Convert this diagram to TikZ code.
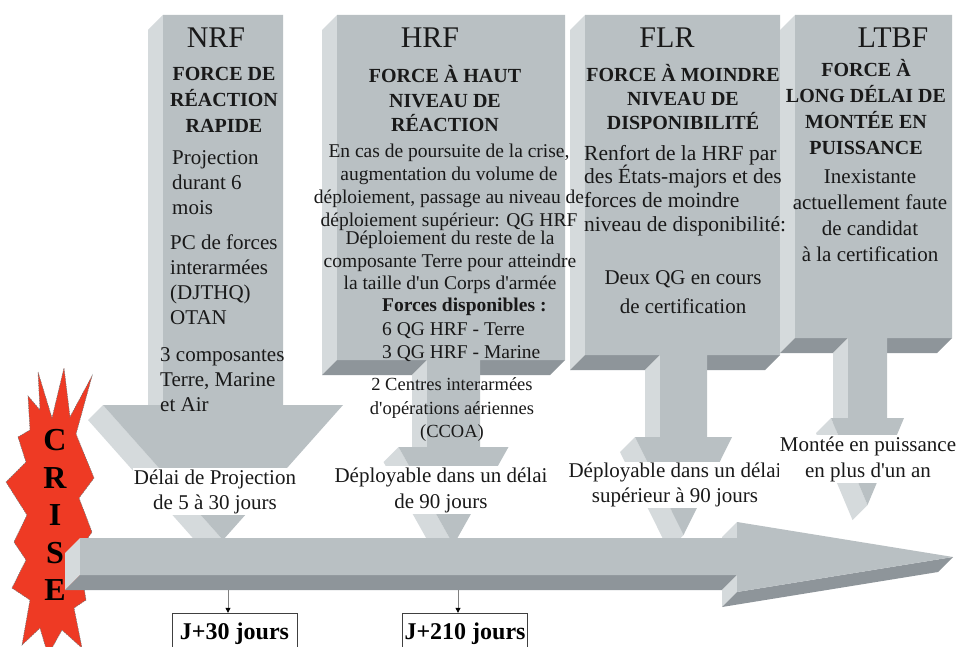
\documentclass[tikz,border=0pt]{standalone}
\usepackage{fontspec}
\setmainfont{Liberation Serif}
\usetikzlibrary{arrows.meta}
\definecolor{facefront}{HTML}{B9C0C3}
\definecolor{faceleft}{HTML}{D5DADC}
\definecolor{facebottom}{HTML}{8E959A}
\definecolor{crisered}{HTML}{EE3A24}
\newcommand{\apos}{\textquotesingle}

% block, stem and head of one force (front face + visible sides)
% #1 #2 block left/right, #3 block bottom, #4 #5 stem left/right,
% #6 stem bottom, #7 #8 head left/right, #9 tip
\newcommand{\stemarrow}[9]{%
  \fill[faceleft] (#1,15) -- (#1,#3) -- ++(-15,15) -- (#1-15,30) -- cycle;
  \fill[facebottom] (#1,#3) -- (#4,#3) -- ++(-15,15) -- (#1-15,#3+15) -- cycle;
  \fill[facebottom] (#5,#3) -- (#2,#3) -- ++(-15,15) -- (#5-15,#3+15) -- cycle;
  \fill[faceleft] (#4,#3) -- (#4,#6) -- ++(-15,15) -- (#4-15,#3+15) -- cycle;
  \fill[faceleft] (#7,#6) -- ({(#4+#5)/2},#9) -- ++(-15,15) -- (#7-15,#6+15) -- cycle;
  \fill[facefront] (#1,15) -- (#2,15) -- (#2,#3) -- (#5,#3) -- (#5,#6) -- (#8,#6)
    -- ({(#4+#5)/2},#9) -- (#7,#6) -- (#4,#6) -- (#4,#3) -- (#1,#3) -- cycle;
}

\begin{document}
\begin{tikzpicture}[x=1pt, y=-1pt]
  \tikzstyle{nametext}=[font=\fontsize{30}{30}\selectfont, inner sep=0pt, text=black!90]
  \tikzstyle{headtext}=[font=\fontsize{20}{26}\selectfont\bfseries, align=center, inner sep=0pt, text=black!90]
  \tikzstyle{bodytext}=[font=\fontsize{21}{25}\selectfont, inner sep=0pt, text=black!90]
  \tikzstyle{smalltext}=[font=\fontsize{19.5}{23}\selectfont, inner sep=0pt, text=black!90]
  \tikzstyle{delaytext}=[bodytext, align=center, fill=white, inner sep=1pt]
  \tikzstyle{daybox}=[draw=black!75, fill=white, font=\fontsize{24}{24}\selectfont\bfseries,
    minimum width=125pt, minimum height=42pt, inner sep=0pt]
  \tikzstyle{connector}=[black!50, line width=0.8pt, -{Triangle[length=5pt, width=5pt, color=black]}]
  \tikzstyle{crisestar}=[fill=crisered, draw=black!55, line width=0.5pt, dash pattern=on 1.5pt off 1pt]

  \useasboundingbox (0,0) rectangle (958,647);
  \fill[white] (0,0) rectangle (958,647);
  \clip (0,0) rectangle (958,647);

  % crisis star
  \filldraw[crisestar] (38,372) -- (52,418) -- (64,368) -- (70,417) -- (92,376) -- (76,434)
    -- (94,478) -- (79,498) -- (92,532) -- (78,552) -- (86,600) -- (74,608) -- (82,648)
    -- (62,630) -- (48,655) -- (40,628) -- (22,645) -- (30,600) -- (12,588) -- (26,560)
    -- (14,542) -- (27,515) -- (6,482) -- (26,462) -- (18,437) -- (30,430) -- (28,396)
    -- (40,410) -- cycle;

  % the four forces
  \stemarrow{163}{283}{405}{163}{283}{405}{103}{343}{540}
  \stemarrow{337}{565}{360}{427}{480}{447}{398.5}{508.5}{545}
  \stemarrow{585}{780}{355}{660}{707}{437}{635}{732}{535}
  \stemarrow{795}{952}{338}{848}{887}{418}{831}{904}{505}

  % time line
  \fill[faceleft] (80,538) -- (80,575) -- ++(-15,15) -- (65,553) -- cycle;
  \fill[facebottom] (80,575) -- (737,575) -- ++(-15,15) -- (65,590) -- cycle;
  \fill[faceleft] (737,522) -- (737,538) -- ++(-15,15) -- (722,537) -- cycle;
  \fill[faceleft] (737,575) -- (737,592) -- ++(-15,15) -- (722,590) -- cycle;
  \fill[facebottom] (737,592) -- (953,557) -- ++(-15,15) -- (722,607) -- cycle;
  \fill[facefront] (80,538) -- (737,538) -- (737,522) -- (953,557) -- (737,592)
    -- (737,575) -- (80,575) -- cycle;

  % NRF
  \node[nametext] (nrfname) at (216,38) {NRF};
  \node[headtext] (nrfhead) at (224,100) {FORCE DE\\RÉACTION\\RAPIDE};
  \node[bodytext, align=left, anchor=west] (nrfproj) at (172,183) {Projection\\durant 6\\mois};
  \node[bodytext, align=left, anchor=west] (nrfpc) at (170,280) {PC de forces\\interarmées\\(DJTHQ)\\OTAN};
  \node[bodytext, align=left, anchor=west] (nrfcomp) at (160,380) {3 composantes\\Terre, Marine\\et Air};
  \node[delaytext] (nrfdelay) at (215,491.5) {Délai de Projection\\de 5 à 30 jours};

  % HRF
  \node[nametext] (hrfname) at (430,38) {HRF};
  \node[headtext, font=\fontsize{20}{24.5}\selectfont\bfseries] (hrfhead) at (445,99) {FORCE À HAUT\\NIVEAU DE\\RÉACTION};
  \node[smalltext, align=center] (hrfcase) at (449,187) {En cas de poursuite de la crise,\\augmentation du volume de\\déploiement, passage au niveau de\\déploiement supérieur: QG HRF};
  \node[smalltext, align=center, font=\fontsize{19.5}{22.5}\selectfont] (hrfrest) at (450,262.5) {Déploiement du reste de la\\composante Terre pour atteindre\\la taille d\apos un Corps d\apos armée};
  \node[smalltext, align=left, anchor=west, font=\fontsize{19.5}{23.5}\selectfont] (hrfavail) at (382,330) {\textbf{Forces disponibles :}\\6 QG HRF - Terre\\3 QG HRF - Marine};
  \node[smalltext, align=center, font=\fontsize{18.5}{23.5}\selectfont] (hrfccoa) at (452,410) {2 Centres interarmées\\d\apos opérations aériennes\\(CCOA)};
  \node[delaytext, font=\fontsize{21}{26}\selectfont] (hrfdelay) at (441,490) {Déployable dans un délai\\de 90 jours};

  % FLR
  \node[nametext] (flrname) at (667,38) {FLR};
  \node[headtext, font=\fontsize{20}{24}\selectfont\bfseries] (flrhead) at (683,97) {FORCE À MOINDRE\\NIVEAU DE\\DISPONIBILITÉ};
  \node[bodytext, align=left, anchor=west, font=\fontsize{21.5}{23.7}\selectfont] (flrrenf) at (584,190.5) {Renfort de la HRF par\\des États-majors et des\\forces de moindre\\niveau de disponibilité:};
  \node[bodytext, align=center, font=\fontsize{21}{29}\selectfont] (flrqg) at (683,292.5) {Deux QG en cours\\de certification};
  \node[delaytext] (flrdelay) at (675,485) {Déployable dans un délai\\supérieur à 90 jours};

  % LTBF
  \node[nametext] (ltbfname) at (893,38) {LTBF};
  \node[headtext] (ltbfhead) at (866,107) {FORCE À\\LONG DÉLAI DE\\MONTÉE EN\\PUISSANCE};
  \node[bodytext, align=center, font=\fontsize{21}{26}\selectfont] (ltbfnone) at (870,216) {Inexistante\\actuellement faute\\de candidat\\à la certification};
  \node[delaytext, font=\fontsize{21}{26}\selectfont] (ltbfdelay) at (868,459) {Montée en puissance\\en plus d\apos un an};

  % crisis letters
  \node[font=\fontsize{32}{37.5}\selectfont\bfseries, align=center, inner sep=0pt] (crise) at (55,515) {C\\R\\I\\S\\E};

  % milestones
  \node[daybox] (day30) at (234.5,634) {J+30 jours};
  \node[daybox] (day210) at (465,634) {J+210 jours};
  \coordinate (t30) at (228,590);
  \coordinate (t210) at (458,590);
  \draw[connector] (t30) -- (t30 |- day30.north);
  \draw[connector] (t210) -- (t210 |- day210.north);
\end{tikzpicture}
\end{document}
